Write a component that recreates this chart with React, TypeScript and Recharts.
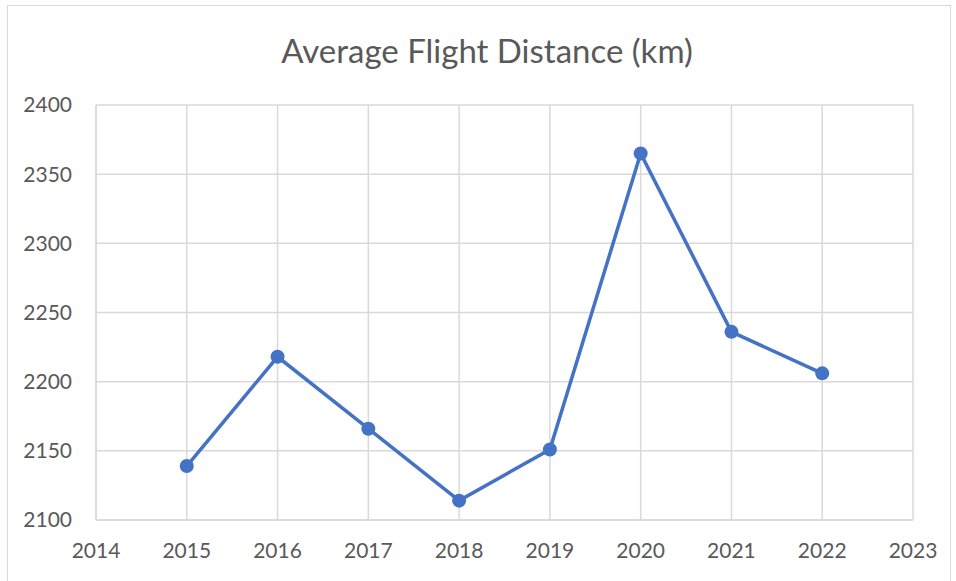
import { CartesianGrid, Line, LineChart, XAxis, YAxis } from "recharts";

const years = [2015, 2016, 2017, 2018, 2019, 2020, 2021, 2022];
const distances = [2139, 2218, 2166, 2114, 2151, 2365, 2236, 2206];
const xTicks = [2014, 2015, 2016, 2017, 2018, 2019, 2020, 2021, 2022, 2023];
const yTicks = [2100, 2150, 2200, 2250, 2300, 2350, 2400];

const data = years.map((year, i) => ({ year, distance: distances[i] }));

const grey = "#595959";
const gridColor = "#d9d9d9";
const blue = "#4472C4";
const font = "Lato, 'Open Sans', sans-serif";
const tickStyle = { fontSize: 21, fill: grey, fontFamily: font };

export default function App() {
  return (
    <div
      style={{
        position: "fixed",
        left: 0,
        top: 0,
        width: 956,
        height: 581,
        background: "#fff",
      }}
    >
      {/* outer chart frame */}
      <div
        style={{
          position: "absolute",
          left: 7,
          top: 5,
          width: 944,
          height: 580,
          border: `1px solid ${gridColor}`,
          boxSizing: "border-box",
        }}
      />
      <div
        style={{
          position: "absolute",
          left: 0,
          top: 29,
          width: 974,
          textAlign: "center",
          fontFamily: font,
          fontSize: 33,
          color: grey,
          lineHeight: "42px",
        }}
      >
        Average Flight Distance (km)
      </div>
      <div style={{ position: "absolute", left: 0, top: 0 }}>
        <LineChart
          width={956}
          height={581}
          data={data}
          margin={{ top: 105, right: 43, bottom: 21, left: 0 }}
        >
          <CartesianGrid stroke={gridColor} strokeWidth={1.5} />
          <XAxis
            dataKey="year"
            type="number"
            domain={[2014, 2023]}
            ticks={xTicks}
            interval={0}
            tick={tickStyle}
            axisLine={{ stroke: gridColor, strokeWidth: 1.5 }}
            tickLine={false}
            tickSize={0}
            tickMargin={23}
            height={40}
          />
          <YAxis
            type="number"
            domain={[2100, 2400]}
            ticks={yTicks}
            interval={0}
            tick={tickStyle}
            axisLine={{ stroke: gridColor, strokeWidth: 1.5 }}
            tickLine={false}
            tickSize={0}
            tickMargin={24}
            width={96}
          />
          <Line
            type="linear"
            dataKey="distance"
            stroke={blue}
            strokeWidth={3.5}
            dot={{ r: 7, fill: blue, stroke: blue, strokeWidth: 0 }}
            activeDot={false}
            isAnimationActive={false}
          />
        </LineChart>
      </div>
    </div>
  );
}
